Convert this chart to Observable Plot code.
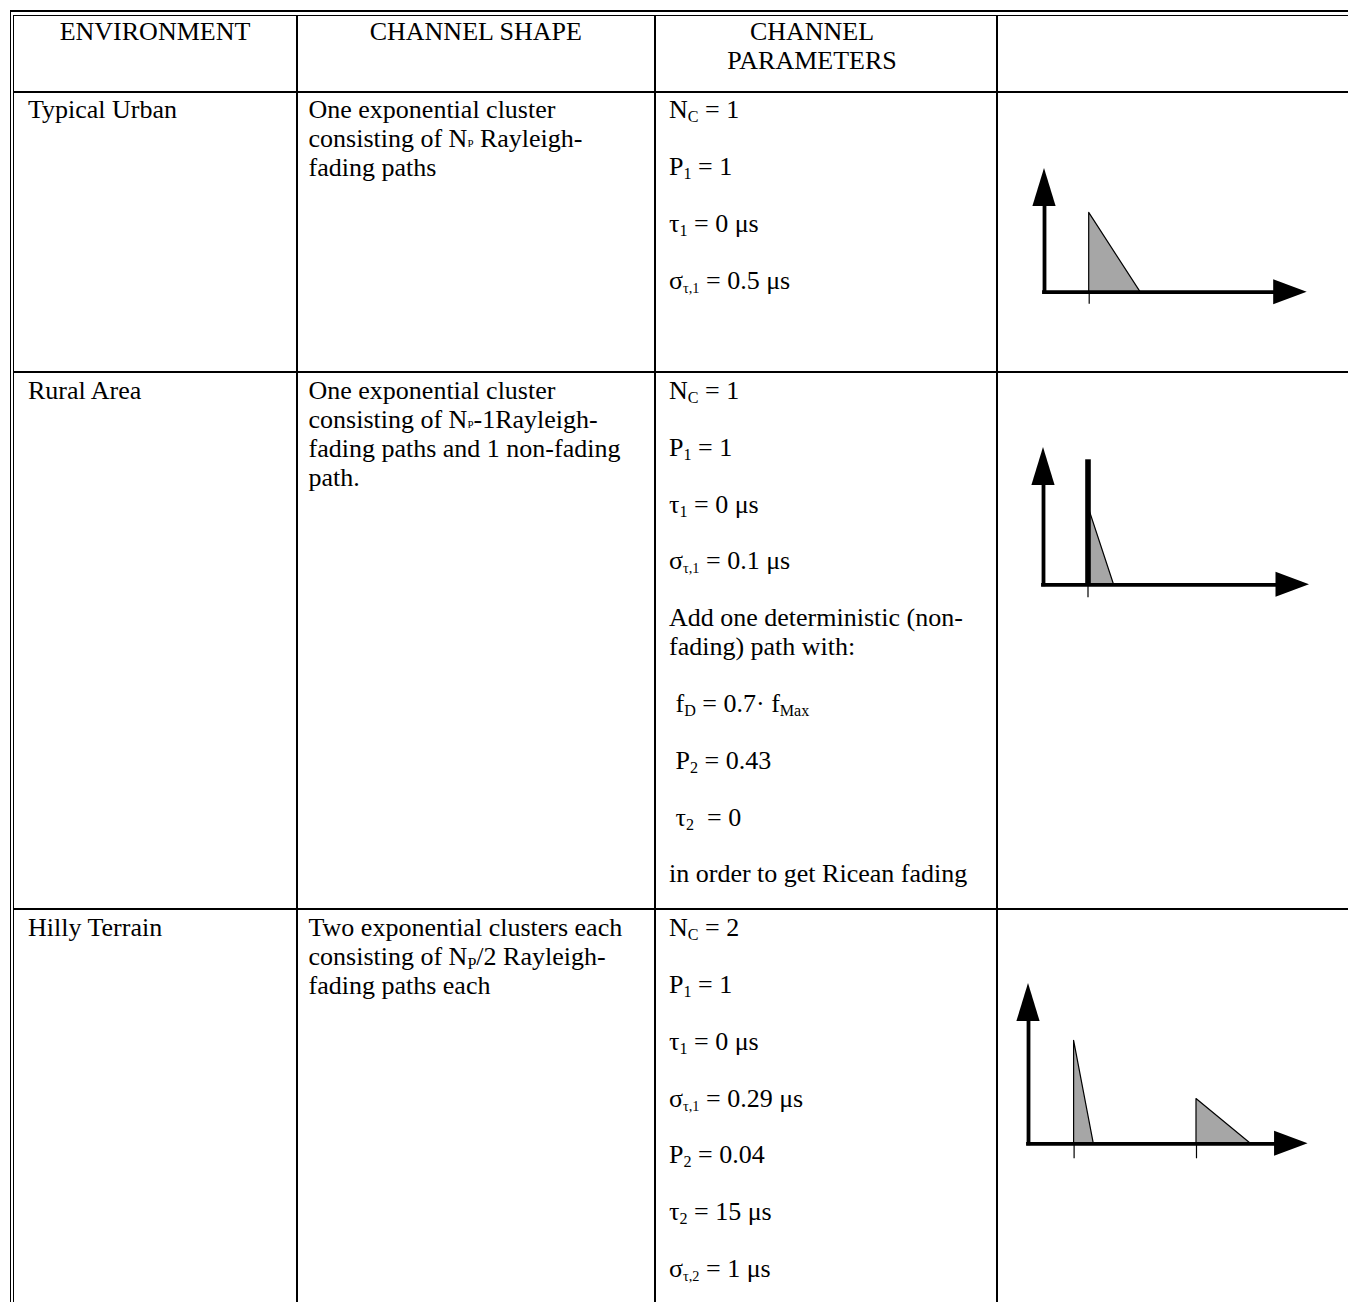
<!DOCTYPE html>
<html><head><meta charset="utf-8">
<script src="https://cdn.jsdelivr.net/npm/d3@7"></script>
<script src="https://cdn.jsdelivr.net/npm/@observablehq/plot@0.6"></script>
<style>
html,body{margin:0;padding:0;background:#fff;}
#page{position:relative;width:1348px;height:1302px;overflow:hidden;font-family:"Liberation Serif","Times New Roman",serif;font-size:26px;line-height:29px;color:#000;}
.ln{position:absolute;background:#000;}
.cell{position:absolute;white-space:pre;}
.cell .para{margin:0 0 27.8px 0;}
.cell .tl{margin:0;}
.hdr{text-align:center;}
sub{font-size:0.62em;vertical-align:-0.22em;line-height:0;}
sub.tiny{font-size:0.42em;vertical-align:-0.02em;}
sub.sm{font-size:0.55em;vertical-align:-0.25em;}
.diag{position:absolute;}
</style>
</head><body><div id="page"></div>
<script>
// ---- table text ----
const headers = [["ENVIRONMENT"], ["CHANNEL SHAPE"], ["CHANNEL", "PARAMETERS"], [""]];
const environments = ["Typical Urban", "Rural Area", "Hilly Terrain"];
const shapeLines = [
  ["One exponential cluster", "consisting of N<sub class=\"tiny\">P</sub> Rayleigh-", "fading paths"],
  ["One exponential cluster", "consisting of N<sub class=\"tiny\">P</sub>-1Rayleigh-", "fading paths and 1 non-fading", "path."],
  ["Two exponential clusters each", "consisting of N<sub>P</sub>/2 Rayleigh-", "fading paths each"]
];
const urbanParams = [["N<sub>C</sub> = 1"], ["P<sub>1</sub> = 1"], ["τ<sub>1</sub> = 0 μs"], ["σ<sub class=\"sm\">τ,1</sub> = 0.5 μs"]];
const ruralParams = [["N<sub>C</sub> = 1"], ["P<sub>1</sub> = 1"], ["τ<sub>1</sub> = 0 μs"], ["σ<sub class=\"sm\">τ,1</sub> = 0.1 μs"],
  ["Add one deterministic (non-", "fading) path with:"], [" f<sub>D</sub> = 0.7· f<sub>Max</sub>"], [" P<sub>2</sub> = 0.43"], [" τ<sub>2</sub>  = 0"], ["in order to get Ricean fading"]];
const hillyParams = [["N<sub>C</sub> = 2"], ["P<sub>1</sub> = 1"], ["τ<sub>1</sub> = 0 μs"], ["σ<sub class=\"sm\">τ,1</sub> = 0.29 μs"],
  ["P<sub>2</sub> = 0.04"], ["τ<sub>2</sub> = 15 μs"], ["σ<sub class=\"sm\">τ,2</sub> = 1 μs"]];

// ---- power delay profile sketches (schematic units) ----
const urbanClusters = [{delay: 4.47, power: 7.93, spread: 5.13}];
const urbanSpikes = [];
const ruralClusters = [{delay: 4.45, power: 7.9, spread: 2.6}];
const ruralSpikes = [{delay: 4.45, power: 12.5}];
const hillyClusters = [{delay: 4.56, power: 10.3, spread: 1.97}, {delay: 16.8, power: 4.47, spread: 5.43}];
const hillySpikes = [];
const axisExtents = [{xEnd: 26.27, yEnd: 12.37}, {xEnd: 26.6, yEnd: 13.73}, {xEnd: 27.96, yEnd: 16.03}];
const tickDepths = [1.2, 1.3, 1.5];

// ---- layout ----
const page = document.getElementById("page");
function line(l, t, w, h) {
  const d = document.createElement("div");
  d.className = "ln";
  Object.assign(d.style, {left: l + "px", top: t + "px", width: w + "px", height: h + "px"});
  page.appendChild(d);
}
// outer double frame (left + top)
line(9.5, 10.3, 1400, 1.7); line(12.8, 14.6, 1400, 1.7);
line(9.5, 10.3, 1.5, 1400); line(12.8, 14.6, 1.5, 1400);
// column rules
const colRules = [295.5, 654, 995.7];
colRules.forEach(x => line(x, 16, 2, 1400));
// row rules
const rowRules = [90.7, 371.2, 908.4];
rowRules.forEach(y => line(14, y, 1400, 2.1));

function cell(html, l, t, w, cls) {
  const d = document.createElement("div");
  d.className = "cell" + (cls ? " " + cls : "");
  d.style.left = l + "px"; d.style.top = t + "px";
  if (w) d.style.width = w + "px";
  d.innerHTML = html;
  page.appendChild(d);
  return d;
}
const lines = arr => arr.map(s => "<div class=\"tl\">" + s + "</div>").join("");
// header
const hdrBoxes = [[15, 280], [297.5, 356.5], [656, 312], [997.7, 340]];
headers.forEach((h, i) => { if (h[0]) cell(lines(h), hdrBoxes[i][0], 16.5, hdrBoxes[i][1], "hdr"); });

const rowTops = [92.7, 373.3, 910.5];
const colText = [28, 308.5, 669];
const params = [urbanParams, ruralParams, hillyParams];
environments.forEach((env, r) => {
  const top = rowTops[r] + 2.75;
  cell(lines([env]), colText[0], top);
  cell(lines(shapeLines[r]), colText[1], top);
  cell(params[r].map(p => "<div class=\"para\">" + lines(p) + "</div>").join(""), colText[2], top);
});

// ---- diagrams ----
const PX = 10;                 // pixels per schematic unit
const upLen = 38, upHalf = 11.6, rightLen = 33.5, rightHalf = 12.5;
const origins = [[1044, 292], [1043.3, 584], [1027.7, 1143]];
function profile(clusters, spikes, ext, tickDepth) {
  const ml = 16, mr = 4, mt = 4, mb = 22;
  const W = ml + ext.xEnd * PX + mr, H = mt + ext.yEnd * PX + mb;
  const u = v => v / PX;
  const tri = clusters.flatMap((c, i) => [
    {id: i, t: c.delay, p: c.power},
    {id: i, t: c.delay + c.spread, p: 0}
  ]);
  const delays = Array.from(new Set([...clusters.map(c => c.delay), ...spikes.map(s => s.delay)]));
  const plot = Plot.plot({
    width: W, height: H,
    style: {background: "transparent", overflow: "visible"},
    x: {domain: [0, ext.xEnd], range: [ml, ml + ext.xEnd * PX], axis: null},
    y: {domain: [0, ext.yEnd], range: [mt + ext.yEnd * PX, mt], axis: null},
    marks: [
      Plot.areaY(tri, {x: "t", y1: 0, y2: "p", z: "id", fill: "#a6a6a6", stroke: "#000", strokeWidth: 1.2}),
      Plot.ruleX(spikes, {x: "delay", y1: 0, y2: "power", strokeWidth: 5.6, stroke: "#000"}),
      Plot.ruleX(delays, {x: d => d, y1: 0, y2: -tickDepth, strokeWidth: 1.2, stroke: "#000"}),
      Plot.ruleY([0], {x1: 0, x2: ext.xEnd - u(rightLen), strokeWidth: 3.8, stroke: "#000", strokeLinecap: "square"}),
      Plot.ruleX([0], {y1: 0, y2: ext.yEnd - u(upLen), strokeWidth: 3.8, stroke: "#000", strokeLinecap: "square"}),
      Plot.areaY([{x: ext.xEnd - u(rightLen), a: -u(rightHalf), b: u(rightHalf)}, {x: ext.xEnd, a: 0, b: 0}],
        {x: "x", y1: "a", y2: "b", fill: "#000"}),
      Plot.areaX([{y: ext.yEnd - u(upLen), a: -u(upHalf), b: u(upHalf)}, {y: ext.yEnd, a: 0, b: 0}],
        {y: "y", x1: "a", x2: "b", fill: "#000"})
    ]
  });
  return {plot, ml, mt};
}
const profiles = [[urbanClusters, urbanSpikes], [ruralClusters, ruralSpikes], [hillyClusters, hillySpikes]];
profiles.forEach(([c, s], i) => {
  const ext = axisExtents[i];
  const {plot, ml, mt} = profile(c, s, ext, tickDepths[i]);
  const wrap = document.createElement("div");
  wrap.className = "diag";
  wrap.style.left = (origins[i][0] - ml) + "px";
  wrap.style.top = (origins[i][1] - ext.yEnd * PX - mt) + "px";
  wrap.appendChild(plot);
  page.appendChild(wrap);
});
</script>
</body></html>
